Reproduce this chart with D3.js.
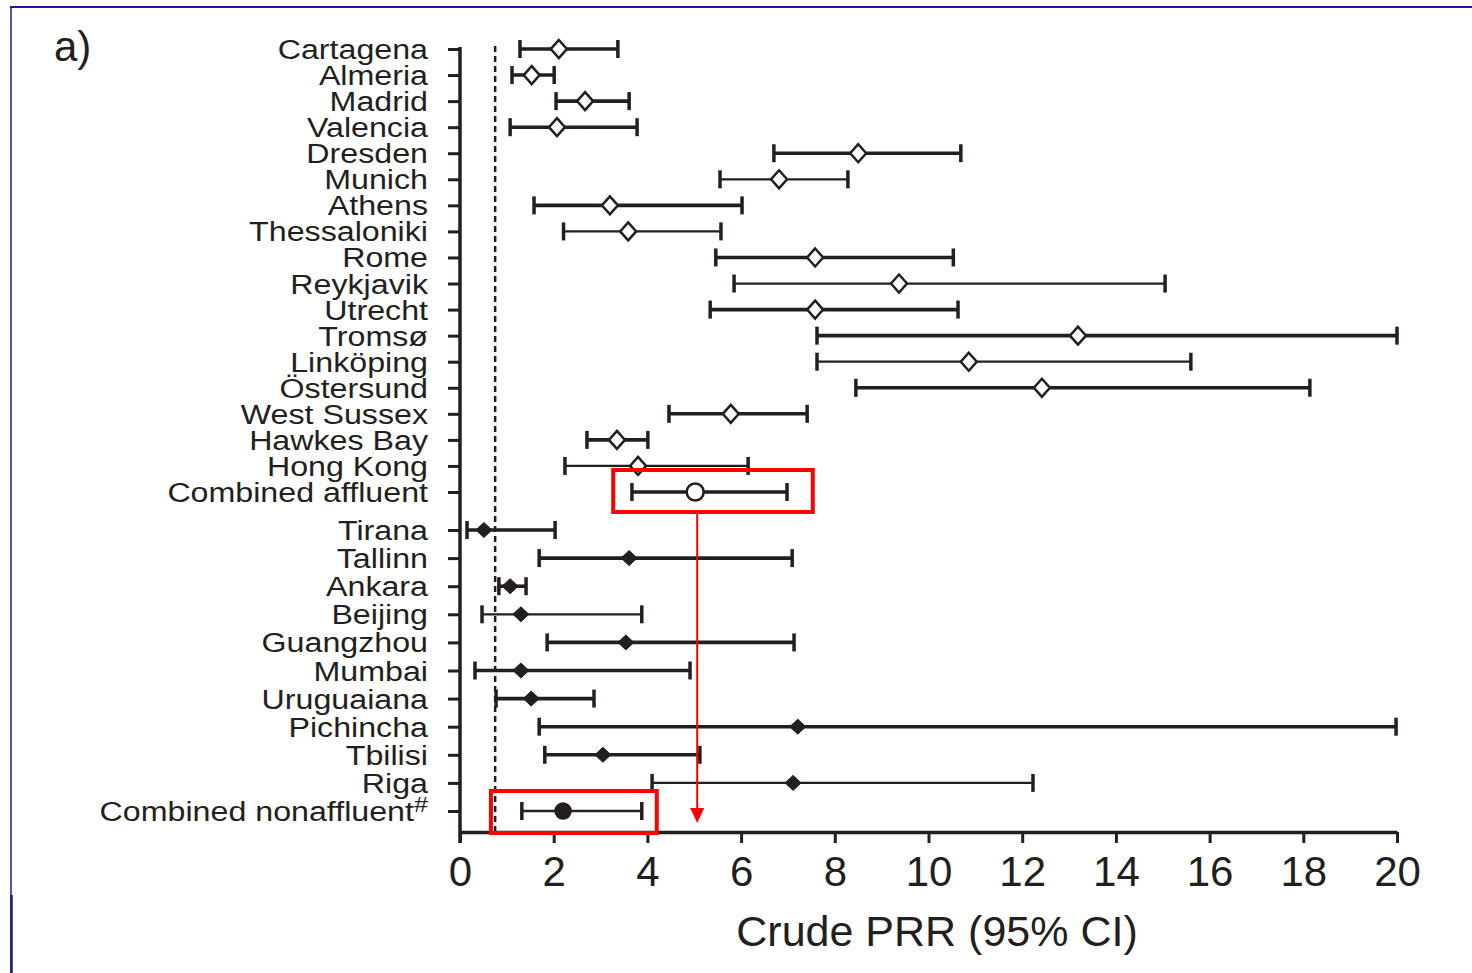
<!DOCTYPE html>
<html>
<head>
<meta charset="utf-8">
<script src="https://cdn.jsdelivr.net/npm/d3@7"></script>
<style>
  body { margin: 0; background: #fff; }
  svg { display: block; font-family: "Liberation Sans", Arial, sans-serif; }
</style>
</head>
<body>
<svg width="1472" height="973"></svg>
<script>
// affluent centres (open markers)
const affluentCities = ["Cartagena", "Almeria", "Madrid", "Valencia", "Dresden", "Munich", "Athens",
  "Thessaloniki", "Rome", "Reykjavik", "Utrecht", "Tromsø", "Linköping", "Östersund",
  "West Sussex", "Hawkes Bay", "Hong Kong", "Combined affluent"];
const affluentPrr  = [2.11, 1.53, 2.67, 2.07, 8.50, 6.81, 3.20, 3.59, 7.58, 9.37, 7.58, 13.19, 10.86, 12.42, 5.78, 3.35, 3.80, 5.02];
const affluentLow  = [1.28, 1.11, 2.05, 1.07, 6.70, 5.55, 1.58, 2.21, 5.46, 5.85, 5.34, 7.62, 7.62, 8.45, 4.46, 2.71, 2.24, 3.67];
const affluentHigh = [3.37, 2.01, 3.61, 3.78, 10.69, 8.28, 6.02, 5.57, 10.53, 15.05, 10.63, 20.0, 15.60, 18.14, 7.41, 4.01, 6.15, 6.98];

// nonaffluent centres (filled markers)
const nonaffluentCities = ["Tirana", "Tallinn", "Ankara", "Beijing", "Guangzhou", "Mumbai",
  "Uruguaiana", "Pichincha", "Tbilisi", "Riga", "Combined nonaffluent"];
const nonaffluentPrr  = [0.51, 3.61, 1.07, 1.30, 3.54, 1.30, 1.52, 7.21, 3.05, 7.11, 2.20];
const nonaffluentLow  = [0.15, 1.69, 0.83, 0.47, 1.86, 0.32, 0.77, 1.69, 1.81, 4.10, 1.32];
const nonaffluentHigh = [2.03, 7.09, 1.41, 3.88, 7.13, 4.91, 2.86, 19.98, 5.12, 12.23, 3.88];

const xTicks = [0, 2, 4, 6, 8, 10, 12, 14, 16, 18, 20];
const referenceLine = 0.75;
const affluentBox = [3.27, 7.53];
const nonaffluentBox = [0.66, 4.2];

const thinRows = new Set(["Munich", "Thessaloniki", "Reykjavik", "Linköping", "Hong Kong",
  "Beijing", "Riga", "Combined nonaffluent"]);

const INK = "#231f20";
const RED = "#ff0000";

const svg = d3.select("svg");

const x = d3.scaleLinear().domain([0, 20]).range([460, 1397]);
const yA = d3.scalePoint().domain(affluentCities).range([49, 492]);
const yN = d3.scalePoint().domain(nonaffluentCities).range([530, 811]);

const rows = [
  ...affluentCities.map((c, i) => ({ city: c, prr: affluentPrr[i], low: affluentLow[i], high: affluentHigh[i], y: yA(c), group: "a" })),
  ...nonaffluentCities.map((c, i) => ({ city: c, prr: nonaffluentPrr[i], low: nonaffluentLow[i], high: nonaffluentHigh[i], y: yN(c), group: "n" })),
];

// frame
svg.append("line").attr("x1", 10).attr("x2", 1472).attr("y1", 7).attr("y2", 7)
  .attr("stroke", "#1c1c8a").attr("stroke-width", 2);
svg.append("line").attr("x1", 11).attr("x2", 11).attr("y1", 6).attr("y2", 973)
  .attr("stroke", "#1c1c8a").attr("stroke-width", 1.5);
svg.append("line").attr("x1", 11.5).attr("x2", 11.5).attr("y1", 895).attr("y2", 973)
  .attr("stroke", "#1c1c8a").attr("stroke-width", 2.5);

svg.append("text").attr("x", 54).attr("y", 61).attr("font-size", 42).attr("fill", INK).text("a)");

// reference line
svg.append("line")
  .attr("x1", x(referenceLine)).attr("x2", x(referenceLine))
  .attr("y1", 46).attr("y2", 832)
  .attr("stroke", INK).attr("stroke-width", 2.5).attr("stroke-dasharray", "6,4");

// y axis ticks
[yA, yN].forEach((s) => {
  const g = svg.append("g").attr("transform", "translate(460,0)")
    .call(d3.axisLeft(s).tickSize(12).tickSizeOuter(0).tickFormat(""));
  g.select(".domain").remove();
  g.selectAll(".tick line").attr("stroke", INK).attr("stroke-width", 3);
});
svg.append("line").attr("x1", 460).attr("x2", 460).attr("y1", 47).attr("y2", 843)
  .attr("stroke", INK).attr("stroke-width", 3.5);

// x axis
const xg = svg.append("g").attr("transform", "translate(0,832)")
  .call(d3.axisBottom(x).tickValues(xTicks).tickSize(11).tickSizeOuter(0).tickPadding(13));
xg.select(".domain").attr("stroke", INK).attr("stroke-width", 3.5);
xg.selectAll(".tick line").attr("stroke", INK).attr("stroke-width", 3);
xg.selectAll(".tick text").attr("font-size", 42).attr("fill", INK)
  .attr("font-family", "Liberation Sans, Arial, sans-serif");

svg.append("text").attr("x", 937).attr("y", 946).attr("text-anchor", "middle")
  .attr("font-size", 43).attr("fill", INK).text("Crude PRR (95% CI)");

// row labels
const labels = svg.append("g").selectAll("text").data(rows).enter().append("text")
  .attr("transform", (d) => `translate(428,${d.y + 10}) scale(1.15,1)`)
  .attr("text-anchor", "end").attr("font-size", 28).attr("fill", INK);
labels.filter((d) => d.city !== "Combined nonaffluent").text((d) => d.city);
const cn = labels.filter((d) => d.city === "Combined nonaffluent");
cn.append("tspan").text("Combined nonaffluent");
cn.append("tspan").attr("font-size", 22).attr("dy", -9).text("#");

// confidence intervals
const ci = svg.append("g").selectAll("g").data(rows).enter().append("g")
  .attr("stroke", INK)
  .attr("stroke-width", (d) => (thinRows.has(d.city) ? 2.3 : 3.6));
ci.append("line").attr("x1", (d) => x(d.low)).attr("x2", (d) => x(d.high))
  .attr("y1", (d) => d.y).attr("y2", (d) => d.y);
ci.append("line").attr("x1", (d) => x(d.low)).attr("x2", (d) => x(d.low))
  .attr("y1", (d) => d.y - 9).attr("y2", (d) => d.y + 9).attr("stroke-width", 3.5);
ci.append("line").attr("x1", (d) => x(d.high)).attr("x2", (d) => x(d.high))
  .attr("y1", (d) => d.y - 9).attr("y2", (d) => d.y + 9).attr("stroke-width", 3.5);

// markers
const diamond = (w, h) => `M0,${-h}L${w},0L0,${h}L${-w},0Z`;
ci.each(function (d) {
  const g = d3.select(this);
  const cx = x(d.prr);
  const combined = d.city.startsWith("Combined");
  if (combined) {
    g.append("circle").attr("cx", cx).attr("cy", d.y)
      .attr("r", d.group === "a" ? 8.5 : 7.5)
      .attr("fill", d.group === "a" ? "#fff" : INK)
      .attr("stroke-width", 2.5);
  } else if (d.group === "a") {
    g.append("path").attr("d", diamond(8, 9)).attr("transform", `translate(${cx},${d.y})`)
      .attr("fill", "#fff").attr("stroke-width", 2.5);
  } else {
    g.append("path").attr("d", diamond(8, 7.5)).attr("transform", `translate(${cx},${d.y})`)
      .attr("fill", INK).attr("stroke-width", 1);
  }
});

// red highlight boxes and arrow
const combinedA = rows.find((d) => d.city === "Combined affluent");
const combinedN = rows.find((d) => d.city === "Combined nonaffluent");
[[affluentBox, combinedA.y - 22, combinedA.y + 20], [nonaffluentBox, combinedN.y - 20, combinedN.y + 22]]
  .forEach(([b, y0, y1]) => {
    svg.append("rect").attr("x", x(b[0])).attr("y", y0)
      .attr("width", x(b[1]) - x(b[0])).attr("height", y1 - y0)
      .attr("fill", "none").attr("stroke", RED).attr("stroke-width", 4);
  });
const ax = x(combinedA.prr) + 2;
svg.append("line").attr("x1", ax).attr("x2", ax).attr("y1", combinedA.y + 22).attr("y2", 810)
  .attr("stroke", RED).attr("stroke-width", 2);
svg.append("path").attr("d", `M${ax - 7},808L${ax + 7},808L${ax},823Z`).attr("fill", RED);
</script>
</body>
</html>
